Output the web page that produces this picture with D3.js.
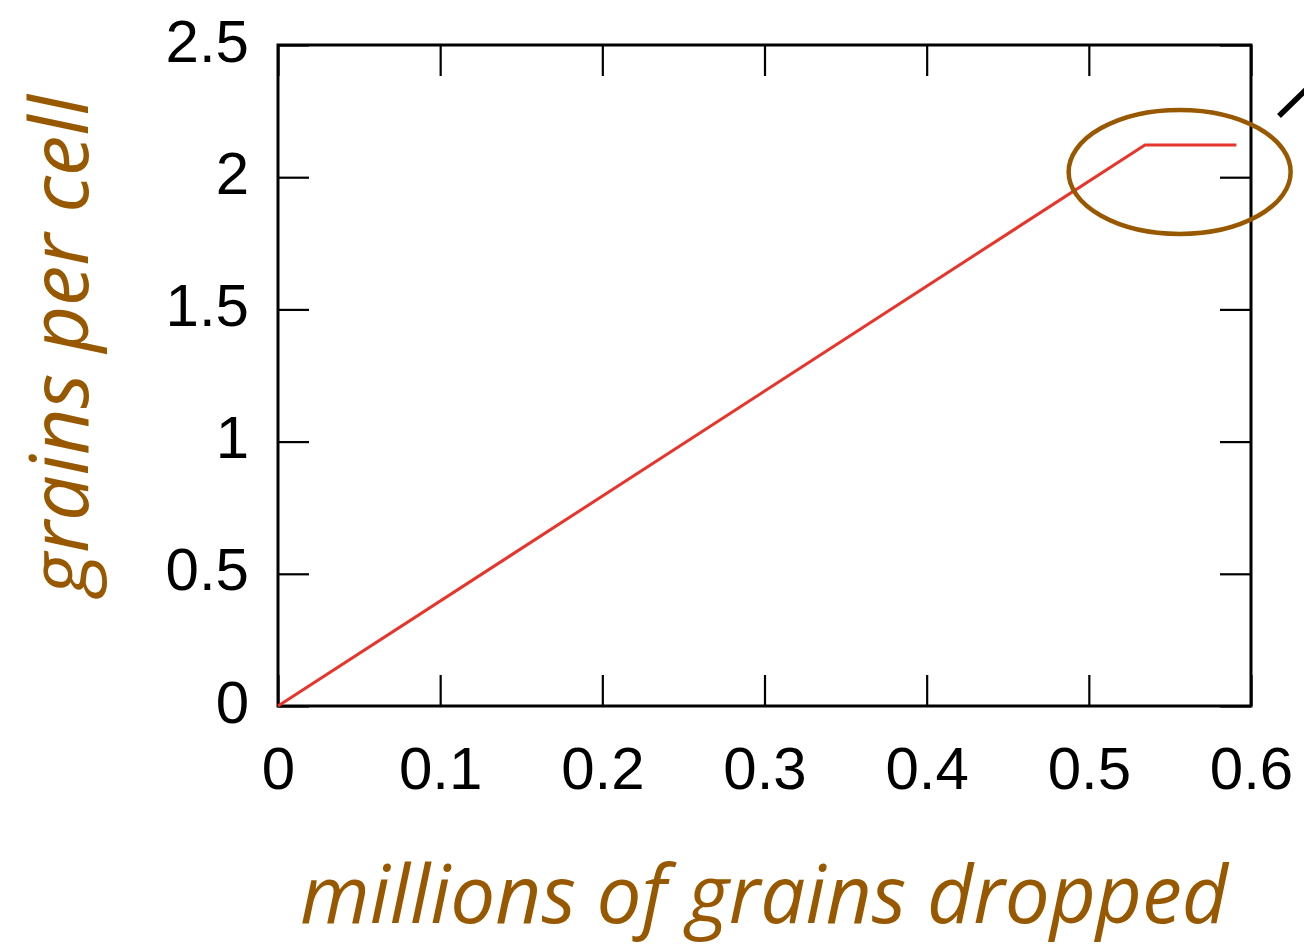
<!DOCTYPE html>
<html>
<head>
<meta charset="utf-8">
<script src="https://cdn.jsdelivr.net/npm/d3@7"></script>
<style>
  body { margin: 0; background: #fff; }
  svg { display: block; }
</style>
</head>
<body>
<div id="chart"></div>
<script>
// data
const grainsDropped = [0, 0.5346, 0.591];   // millions
const grainsPerCell = [0, 2.122, 2.122];
const xTicks = [0, 0.1, 0.2, 0.3, 0.4, 0.5, 0.6];
const yTicks = [0, 0.5, 1, 1.5, 2, 2.5];
const xTickLabels = ['0', '0.1', '0.2', '0.3', '0.4', '0.5', '0.6'];
const yTickLabels = ['0', '0.5', '1', '1.5', '2', '2.5'];

const width = 1304;
const height = 947;
const margin = {top: 45, right: 53, bottom: 241, left: 278};
const brown = '#975800';

const svg = d3.select('#chart')
  .append('svg')
  .attr('width', width)
  .attr('height', height);

const x = d3.scaleLinear().domain([0, 0.6]).range([margin.left, width - margin.right]);
const y = d3.scaleLinear().domain([0, 2.5]).range([height - margin.bottom, margin.top]);

const tickLen = 31;
const fmtX = (d, i) => xTickLabels[i];
const fmtY = (d, i) => yTickLabels[i];

// mirrored inner ticks on all four sides
const axes = [
  {name: 'bottom', axis: d3.axisBottom(x).tickValues(xTicks).tickFormat(fmtX), t: `translate(0,${y(0)})`},
  {name: 'top', axis: d3.axisTop(x).tickValues(xTicks).tickFormat(''), t: `translate(0,${y(2.5)})`},
  {name: 'left', axis: d3.axisLeft(y).tickValues(yTicks).tickFormat(fmtY), t: `translate(${x(0)},0)`},
  {name: 'right', axis: d3.axisRight(y).tickValues(yTicks).tickFormat(''), t: `translate(${x(0.6)},0)`}
];

axes.forEach(a => {
  const g = svg.append('g')
    .attr('class', `axis-${a.name}`)
    .attr('transform', a.t)
    .call(a.axis.tickSizeInner(-tickLen).tickSizeOuter(0));
  g.select('.domain').remove();
  g.selectAll('.tick line').attr('stroke', '#000').attr('stroke-width', 2.2);
  g.selectAll('text')
    .attr('font-family', '"Liberation Sans", Arial, sans-serif')
    .attr('font-size', 60)
    .attr('fill', '#000');
});

// label placements
svg.select('.axis-bottom').selectAll('.tick text').attr('y', 83).attr('dy', 0);
svg.select('.axis-left').selectAll('.tick text').attr('x', -29).attr('dy', 16);

// frame
svg.append('rect')
  .attr('x', x(0))
  .attr('y', y(2.5))
  .attr('width', x(0.6) - x(0))
  .attr('height', y(0) - y(2.5))
  .attr('fill', 'none')
  .attr('stroke', '#000')
  .attr('stroke-width', 3);

// the curve
const line = d3.line()
  .x(d => x(d[0]))
  .y(d => y(d[1]));

svg.append('path')
  .datum(d3.zip(grainsDropped, grainsPerCell))
  .attr('d', line)
  .attr('fill', 'none')
  .attr('stroke', '#e8352b')
  .attr('stroke-width', 3)
  .attr('stroke-linejoin', 'round');

// highlight around the plateau
svg.append('ellipse')
  .attr('cx', x(0.556))
  .attr('cy', y(2.02))
  .attr('rx', 111)
  .attr('ry', 62)
  .attr('fill', 'none')
  .attr('stroke', brown)
  .attr('stroke-width', 4.5);

// pointer going off to the right
svg.append('line')
  .attr('x1', 1279).attr('y1', 116)
  .attr('x2', 1320).attr('y2', 76)
  .attr('stroke', '#000')
  .attr('stroke-width', 5.5);

// axis titles
svg.append('text')
  .attr('x', 300)
  .attr('y', 923)
  .attr('textLength', 928)
  .attr('lengthAdjust', 'spacingAndGlyphs')
  .attr('font-family', '"Open Sans", sans-serif')
  .attr('font-style', 'italic')
  .attr('font-size', 80)
  .attr('fill', brown)
  .text('millions of grains dropped');

svg.append('text')
  .attr('transform', 'translate(88,595) rotate(-90)')
  .attr('textLength', 500)
  .attr('lengthAdjust', 'spacingAndGlyphs')
  .attr('font-family', '"Open Sans", sans-serif')
  .attr('font-style', 'italic')
  .attr('font-size', 80)
  .attr('fill', brown)
  .text('grains per cell');
</script>
</body>
</html>
